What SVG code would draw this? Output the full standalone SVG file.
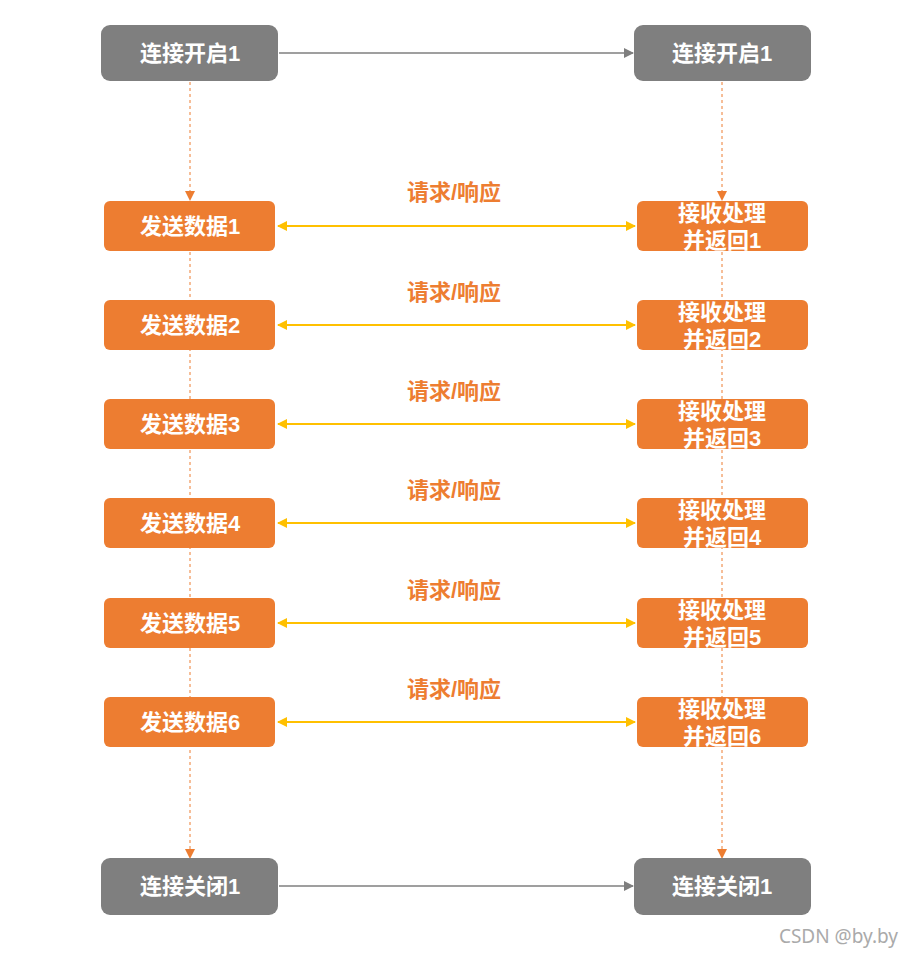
<svg xmlns="http://www.w3.org/2000/svg" width="914" height="956" viewBox="0 0 914 956">
<style>
.g{fill:#7f7f7f}
.o{fill:#ed7d31}
.t{font-family:"Liberation Sans","Noto Sans CJK SC",sans-serif;font-size:22px;font-weight:bold;fill:#fff;text-anchor:middle}
.l{font-family:"Liberation Sans","Noto Sans CJK SC",sans-serif;font-size:22px;font-weight:bold;fill:#ed7d31;text-anchor:middle}
.d{stroke:#ed7d31;stroke-width:1;stroke-dasharray:3,3;fill:none}
.y{stroke:#ffc000;stroke-width:2;fill:none}
.k{stroke:#7f7f7f;stroke-width:1.5;fill:none}
</style>
<defs>
<marker id="ao" markerWidth="10" markerHeight="10" refX="9" refY="5" orient="auto" markerUnits="userSpaceOnUse"><path d="M0,0 L10,5 L0,10 z" fill="#ed7d31"/></marker>
<marker id="ay" markerWidth="10" markerHeight="10" refX="9" refY="5" orient="auto-start-reverse" markerUnits="userSpaceOnUse"><path d="M0,0 L10,5 L0,10 z" fill="#ffc000"/></marker>
<marker id="ag" markerWidth="10" markerHeight="10" refX="9" refY="5" orient="auto" markerUnits="userSpaceOnUse"><path d="M0,0 L10,5 L0,10 z" fill="#7f7f7f"/></marker>
</defs>
<rect width="914" height="956" fill="#fff"/>
<g id="connectors">
<line class="d" x1="190" y1="82" x2="190" y2="200" marker-end="url(#ao)"/>
<line class="d" x1="722" y1="82" x2="722" y2="200" marker-end="url(#ao)"/>
<line class="d" x1="190" y1="252" x2="190" y2="858" marker-end="url(#ao)"/>
<line class="d" x1="722" y1="252" x2="722" y2="858" marker-end="url(#ao)"/>
<line class="k" x1="279" y1="53" x2="633" y2="53" marker-end="url(#ag)"/>
<line class="k" x1="279" y1="886" x2="633" y2="886" marker-end="url(#ag)"/>
<line class="y" x1="278" y1="226" x2="635" y2="226" marker-start="url(#ay)" marker-end="url(#ay)"/>
<line class="y" x1="278" y1="325" x2="635" y2="325" marker-start="url(#ay)" marker-end="url(#ay)"/>
<line class="y" x1="278" y1="424" x2="635" y2="424" marker-start="url(#ay)" marker-end="url(#ay)"/>
<line class="y" x1="278" y1="523" x2="635" y2="523" marker-start="url(#ay)" marker-end="url(#ay)"/>
<line class="y" x1="278" y1="623" x2="635" y2="623" marker-start="url(#ay)" marker-end="url(#ay)"/>
<line class="y" x1="278" y1="722" x2="635" y2="722" marker-start="url(#ay)" marker-end="url(#ay)"/>
<text class="l" x="454" y="200">请求/响应</text>
<text class="l" x="454" y="300">请求/响应</text>
<text class="l" x="454" y="399">请求/响应</text>
<text class="l" x="454" y="498">请求/响应</text>
<text class="l" x="454" y="598">请求/响应</text>
<text class="l" x="454" y="697">请求/响应</text>
</g>
<g id="open-left"><rect class="g" x="101" y="25" width="177" height="56" rx="9"/><text class="t" x="190" y="61">连接开启1</text></g>
<g id="open-right"><rect class="g" x="634" y="25" width="177" height="56" rx="9"/><text class="t" x="722" y="61">连接开启1</text></g>
<g id="send1"><rect class="o" x="104" y="201" width="171" height="50" rx="6"/><text class="t" x="190" y="234">发送数据1</text></g>
<g id="recv1"><rect class="o" x="637" y="201" width="171" height="50" rx="6"/><text class="t" x="722" y="221">接收处理</text><text class="t" x="722" y="248">并返回1</text></g>
<g id="send2"><rect class="o" x="104" y="300" width="171" height="50" rx="6"/><text class="t" x="190" y="333">发送数据2</text></g>
<g id="recv2"><rect class="o" x="637" y="300" width="171" height="50" rx="6"/><text class="t" x="722" y="320">接收处理</text><text class="t" x="722" y="347">并返回2</text></g>
<g id="send3"><rect class="o" x="104" y="399" width="171" height="50" rx="6"/><text class="t" x="190" y="432">发送数据3</text></g>
<g id="recv3"><rect class="o" x="637" y="399" width="171" height="50" rx="6"/><text class="t" x="722" y="419">接收处理</text><text class="t" x="722" y="446">并返回3</text></g>
<g id="send4"><rect class="o" x="104" y="498" width="171" height="50" rx="6"/><text class="t" x="190" y="531">发送数据4</text></g>
<g id="recv4"><rect class="o" x="637" y="498" width="171" height="50" rx="6"/><text class="t" x="722" y="518">接收处理</text><text class="t" x="722" y="545">并返回4</text></g>
<g id="send5"><rect class="o" x="104" y="598" width="171" height="50" rx="6"/><text class="t" x="190" y="631">发送数据5</text></g>
<g id="recv5"><rect class="o" x="637" y="598" width="171" height="50" rx="6"/><text class="t" x="722" y="618">接收处理</text><text class="t" x="722" y="645">并返回5</text></g>
<g id="send6"><rect class="o" x="104" y="697" width="171" height="50" rx="6"/><text class="t" x="190" y="730">发送数据6</text></g>
<g id="recv6"><rect class="o" x="637" y="697" width="171" height="50" rx="6"/><text class="t" x="722" y="717">接收处理</text><text class="t" x="722" y="744">并返回6</text></g>
<g id="close-left"><rect class="g" x="101" y="858" width="177" height="57" rx="9"/><text class="t" x="190" y="894">连接关闭1</text></g>
<g id="close-right"><rect class="g" x="634" y="858" width="177" height="57" rx="9"/><text class="t" x="722" y="894">连接关闭1</text></g>
<text x="898" y="943" font-family="'Noto Sans','Liberation Sans',sans-serif" font-size="19" fill="#aaaaaa" text-anchor="end">CSDN @by.by</text>
</svg>
